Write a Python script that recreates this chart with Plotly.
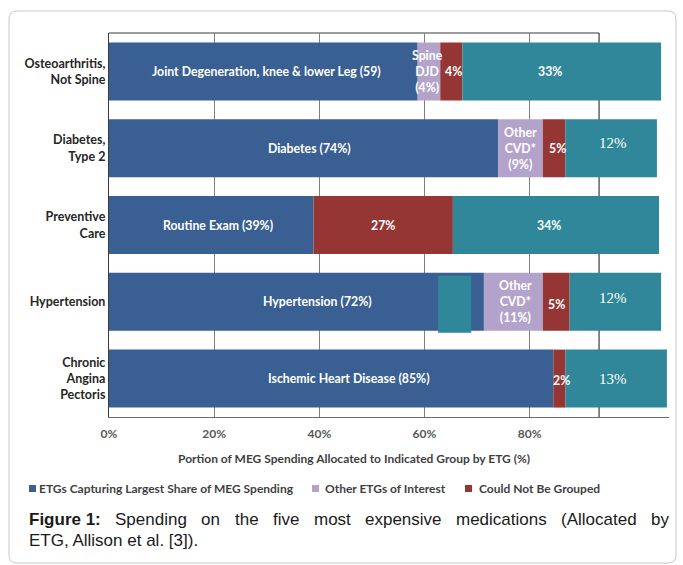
import plotly.graph_objects as go

# ---------------- data ----------------
categories = ["Osteoarthritis, Not Spine", "Diabetes, Type 2", "Preventive Care",
              "Hypertension", "Chronic Angina Pectoris"]
category_labels = ["Osteoarthritis,<br>Not Spine", "Diabetes,<br>Type 2", "Preventive<br>Care",
                   "Hypertension", "Chronic<br>Angina<br>Pectoris"]

# segment lengths as drawn on the axis (%)
largest_share = [58.7, 74.0, 38.9, 71.3, 84.5]
other_etgs = [4.3, 8.5, 0.0, 11.2, 0.0]
not_grouped = [4.2, 4.3, 26.5, 5.1, 2.3]
remainder = [37.8, 17.4, 39.2, 17.4, 19.3]

largest_labels = ["Joint Degeneration, knee & lower Leg (59)", "Diabetes (74%)",
                  "Routine Exam (39%)", "Hypertension (72%)", "Ischemic Heart Disease (85%)"]
other_labels = ["Spine<br>DJD<br>(4%)", "Other<br>CVD*<br>(9%)", "", "Other<br>CVD*<br>(11%)", ""]
not_grouped_labels = ["4%", "5%", "27%", "5%", "2%"]
remainder_labels = ["33%", "12%", "34%", "12%", "13%"]

# pasted-over block in the Hypertension bar
patch_category = ["Hypertension"]
patch_start = [62.6]
patch_width = [6.3]

tick_values = [0, 20, 40, 60, 80]
tick_labels = ["0%", "20%", "40%", "60%", "80%"]
old_frame_edge = 93.2  # dark frame line of the original chart

series_names = ["ETGs Capturing Largest Share of MEG Spending", "Other ETGs of Interest",
                "Could Not Be Grouped", "Remainder"]

caption_line1 = [("Figure 1:", True), ("Spending", False), ("on", False), ("the", False),
                 ("five", False), ("most", False), ("expensive", False),
                 ("medications", False), ("(Allocated", False), ("by", False)]
caption_line2 = "ETG, Allison et al. [3])."

# ---------------- style ----------------
BLUE, LAV, RED, TEAL = "#3a5f92", "#b3a3cb", "#963634", "#2f8799"
SANS = "Lato, 'Open Sans', sans-serif"
SERIF = "'Liberation Serif', 'DejaVu Serif', serif"
CAP = "'Liberation Sans', Arial, sans-serif"
W, H = 683, 565
ML, MR, MT, MB = 109, 14, 33, 148
PW, PH = W - ML - MR, H - MT - MB
BAR_W = 0.755
CAP_SIZE = 17


def px_x(px):
    return (px - ML) / PW


def px_y(py):
    return (H - MB - py) / PH


# Arial / Liberation Sans advance widths (1/1000 em) for justification
AW = {' ': 278, '(': 333, ')': 333, '.': 278, ',': 278, ':': 278, '[': 278, ']': 278,
      '1': 556, '3': 556, 'A': 667, 'E': 667, 'F': 611, 'G': 778, 'S': 667, 'T': 611,
      'a': 556, 'b': 556, 'c': 500, 'd': 556, 'e': 556, 'f': 278, 'g': 556, 'h': 556,
      'i': 222, 'l': 222, 'm': 833, 'n': 556, 'o': 556, 'p': 556, 'r': 333, 's': 500,
      't': 278, 'u': 556, 'v': 500, 'x': 500, 'y': 500}
AWB = {' ': 278, ':': 333, '1': 556, 'F': 611, 'i': 278, 'g': 611, 'u': 611, 'r': 389, 'e': 556}


def text_w(s, bold=False):
    tab = AWB if bold else AW
    return sum(tab.get(ch, 556) for ch in s) * CAP_SIZE / 1000.0


fig = go.Figure()

series = [largest_share, other_etgs, not_grouped, remainder]
colors = [BLUE, LAV, RED, TEAL]
bases = []
run = [0.0] * len(categories)
for i, (vals, col) in enumerate(zip(series, colors)):
    b = list(run)
    bases.append(b)
    ys = [c for c, v in zip(categories, vals) if v > 0]
    xs = [v for v in vals if v > 0]
    bs = [bb for bb, v in zip(b, vals) if v > 0]
    fig.add_trace(go.Bar(
        y=ys, x=xs, base=bs, orientation="h", width=BAR_W,
        marker=dict(color=col, line=dict(width=0)),
        name=series_names[i], showlegend=False, hoverinfo="skip"))
    run = [r + v for r, v in zip(run, vals)]

fig.add_trace(go.Bar(
    y=patch_category, x=patch_width, base=patch_start, orientation="h",
    width=0.742, offset=-0.338, marker=dict(color=TEAL, line=dict(width=0)),
    showlegend=False, hoverinfo="skip"))

# ---------------- in-bar labels ----------------
label_sets = [largest_labels, other_labels, not_grouped_labels, remainder_labels]
xshifts = [[3, 6, 7, 21, 18], [-1, 0, 0, 2, 0], [2, 3, 0, 0, 2], [-12, 2, -7, -2, -3]]
yshifts = [[0, 0, 0, 0, 0], [0, 0, 0, 0, 0], [0, 0, 0, -3, -2], [0, 5, 0, 4, 0]]
serif_flags = [False, True, False, True, True]
annotations = []
for s, labels in enumerate(label_sets):
    for k, cat in enumerate(categories):
        txt = labels[k]
        if not txt or series[s][k] <= 0:
            continue
        use_serif = (s == 3 and serif_flags[k])
        annotations.append(dict(
            x=bases[s][k] + series[s][k] / 2, y=cat, xref="x", yref="y",
            xanchor="center", yanchor="middle",
            text=txt, showarrow=False, xshift=xshifts[s][k], yshift=yshifts[s][k],
            font=dict(family=SERIF if use_serif else SANS, size=15 if use_serif else 12.3,
                      color="white", weight="normal" if use_serif else "bold")))

# axis title
annotations.append(dict(
    x=old_frame_edge / 2, xref="x", y=px_y(458), yref="paper",
    xanchor="center", yanchor="middle",
    text="Portion of MEG Spending Allocated to Indicated Group by ETG (%)",
    showarrow=False, font=dict(family=SANS, size=12, color="#3f3f3f", weight="bold")))

# legend (small square keys as in the original)
legend_items = [(series_names[0], BLUE, 29, 37), (series_names[1], LAV, 312, 323),
                (series_names[2], RED, 465, 477)]
shapes = []
for name, col, sx, tx in legend_items:
    shapes.append(dict(type="rect", xref="paper", yref="paper",
                       x0=px_x(sx), x1=px_x(sx + 7), y0=px_y(492), y1=px_y(485),
                       fillcolor=col, line=dict(width=0)))
    annotations.append(dict(x=px_x(tx), y=px_y(488), xref="paper", yref="paper",
                            xanchor="left", yanchor="middle", text=name, showarrow=False,
                            font=dict(family=SANS, size=12, color="#3f3f3f", weight="bold")))

# caption: first line justified between 27 px and 667 px
left_px, right_px = 27, 667
widths = [text_w(w, b) for w, b in caption_line1]
gap = (right_px - left_px - sum(widths)) / (len(caption_line1) - 1)
xp = left_px
for (w, bold), ww in zip(caption_line1, widths):
    annotations.append(dict(
        x=px_x(xp), y=px_y(519), xref="paper", yref="paper", xanchor="left",
        yanchor="middle", text=w, showarrow=False,
        font=dict(family=CAP, size=CAP_SIZE, color="#1a1a1a", weight="bold" if bold else "normal")))
    xp += ww + gap
annotations.append(dict(
    x=px_x(left_px), y=px_y(540), xref="paper", yref="paper", xanchor="left", yanchor="middle",
    text=caption_line2, showarrow=False,
    font=dict(family=CAP, size=CAP_SIZE, color="#1a1a1a")))

# ---------------- frame shapes ----------------
L, T, R, B, r = px_x(9), px_y(11), px_x(676), px_y(563), 8
rx, ry = r / PW, r / PH
frame_path = (f"M{L + rx},{T} L{R - rx},{T} Q{R},{T} {R},{T - ry} "
              f"L{R},{B + ry} Q{R},{B} {R - rx},{B} L{L + rx},{B} "
              f"Q{L},{B} {L},{B + ry} L{L},{T - ry} Q{L},{T} {L + rx},{T} Z")
shapes += [
    dict(type="path", xref="paper", yref="paper", path=frame_path,
         line=dict(color="#c8c8c8", width=1), layer="below"),
    dict(type="line", xref="x", yref="paper", x0=0, x1=old_frame_edge, y0=1, y1=1,
         line=dict(color="#3a3a3a", width=1.2), layer="below"),
    dict(type="line", xref="x", yref="paper", x0=old_frame_edge, x1=old_frame_edge, y0=0, y1=1,
         line=dict(color="#3a3a3a", width=1.2), layer="below"),
]

fig.update_layout(
    width=W, height=H, margin=dict(l=ML, r=MR, t=MT, b=MB),
    barmode="overlay", plot_bgcolor="white", paper_bgcolor="white",
    xaxis=dict(range=[0, 106.5], tickvals=tick_values, ticktext=tick_labels,
               showgrid=True, gridcolor="#808080", gridwidth=1.2, zeroline=False,
               showline=True, linecolor="#6a6a6a", linewidth=1.2, ticks="",
               ticklabelstandoff=5,
               tickfont=dict(family=SANS, size=12, color="#595959", weight="bold"),
               fixedrange=True),
    yaxis=dict(categoryorder="array", categoryarray=categories, autorange="reversed",
               tickvals=categories, ticktext=category_labels, showgrid=False,
               zeroline=False, showline=True, linecolor="#3a3a3a", linewidth=1.2, ticks="",
               tickfont=dict(family=SANS, size=12.5, color="#262626", weight="bold"),
               fixedrange=True),
    annotations=annotations, shapes=shapes, showlegend=False,
)

fig.write_html("out.html", config={"displayModeBar": False})
